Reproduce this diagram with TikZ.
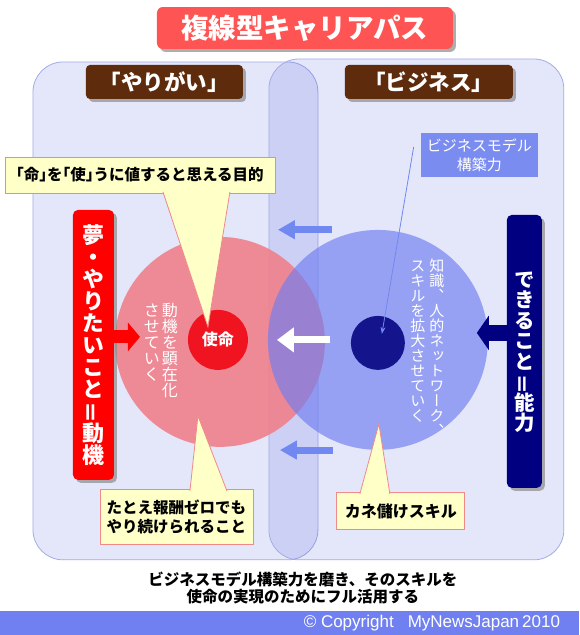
\documentclass[tikz,border=0pt]{standalone}
\usepackage{fontspec}
\usepackage{graphicx}
\setmainfont{Noto Sans CJK JP}
\newfontfamily\jpfont{Noto Sans CJK JP}
\newfontfamily\tatefont[RawFeature=+vert]{Noto Sans CJK JP}
\newfontfamily\haltfont[RawFeature=+halt]{Noto Sans CJK JP}
\newfontfamily\latinfont{Liberation Sans}
\usetikzlibrary{arrows.meta, calc, shadows}
\definecolor{titlered}{HTML}{FF5454}
\definecolor{headbrown}{HTML}{5E2C0C}
\definecolor{areablue}{HTML}{4B58DE}
\definecolor{arealine}{HTML}{A4ACE6}
\definecolor{notefill}{HTML}{FFFFC8}
\definecolor{noteline}{HTML}{EE8A8A}
\definecolor{passionpink}{HTML}{F0808C}
\definecolor{skillblue}{HTML}{6E7DF0}
\definecolor{corenavy}{HTML}{14148C}
\definecolor{missionred}{HTML}{F01420}
\definecolor{barred}{HTML}{FF0000}
\definecolor{barnavy}{HTML}{000080}
\definecolor{bmodelblue}{HTML}{7B8CF0}
\definecolor{footblue}{HTML}{7080F0}
\definecolor{pointblue}{HTML}{7088F0}
% vertical writing: one character per 1em cell
\makeatletter
\newcommand\tatecell[1]{\hbox to 1em{\hss\raisebox{0pt}[.88em][.12em]{#1}\hss}}
\newcommand\tatecol[1]{\vtop{\offinterlineskip\@tfor\tatechar:=#1\do{\tatecell{\tatechar}}}}
\makeatother
\newcommand\tateeq{\jpfont\rotatebox[origin=c]{90}{＝}}

\begin{document}
\begin{tikzpicture}[
    x=1pt, y=-1pt,
    boxshadow/.style={drop shadow={shadow xshift=3pt, shadow yshift=-3pt, fill=black!45, opacity=.7}},
    titlebox/.style={fill=titlered, rounded corners=6pt, text=white, font=\fontsize{27.5}{30}\selectfont\bfseries, minimum width=296pt, minimum height=42pt, inner sep=0pt, boxshadow},
    headbox/.style={fill=headbrown, rounded corners=4pt, text=white, font=\fontsize{21.5}{24}\selectfont\bfseries, minimum height=34pt, inner sep=0pt, boxshadow},
    area/.style={fill=areablue, fill opacity=.15, draw=arealine, line width=.8pt, rounded corners=30pt},
    bigcircle/.style={circle, inner sep=0pt, minimum size=#1},
    vbar/.style={rounded corners=5pt, text=white, inner sep=0pt, boxshadow},
    vtext/.style={anchor=north, inner sep=0pt, text=white},
    note/.style={fill=notefill, draw=noteline, line width=.8pt, font=\bfseries, inner sep=0pt, align=left},
    notetip/.style={fill=notefill, draw=noteline, line width=.8pt},
    blockarrow/.style={line width=#1, line cap=butt},
    pointline/.style={draw=pointblue, line width=.8pt, -{Stealth[length=7pt, width=5pt]}},
  ]
  \fill[white] (0,0) rectangle (579,635);
  % two fields
  \draw[area] (33,62) rectangle (318,560);
  \draw[area] (269,59) rectangle (564,560);
  % circles
  \node[bigcircle=210pt, fill=passionpink, fill opacity=.9] (passion) at (220,342) {};
  \node[bigcircle=220pt, fill=skillblue, fill opacity=.65] (skill) at (378,340) {};
  \node[bigcircle=60pt, fill=missionred, text=white, font=\fontsize{16}{18}\selectfont\bfseries] (mission) at (218,340) {使命};
  \node[bigcircle=54pt, fill=corenavy] (core) at (378,343) {};
  \node[vtext, font=\fontsize{16}{18}\selectfont\tatefont] (motive) at (161,302) {\tatecol{させていく}\hspace{2pt}\tatecol{動機を顕在化}};
  \node[vtext, font=\fontsize{15}{19}\selectfont\tatefont] (network) at (427.5,258) {\tatecol{スキルを拡大させていく}\hspace{4pt}\tatecol{知識、人的ネットワーク、}};
  % arrows between the fields
  \draw[blockarrow=7pt, draw=pointblue, -{Triangle[length=17pt, width=18pt]}] ([xshift=-46pt]skill.north) -- ([xshift=-100pt]skill.north);
  \draw[blockarrow=7pt, draw=pointblue, -{Triangle[length=17pt, width=18pt]}] ([xshift=-45pt]skill.south) -- ([xshift=-98pt]skill.south);
  \draw[blockarrow=7pt, draw=white, -{Triangle[length=17pt, width=24pt]}] ($(skill.center)+(-48,0)$) -- ($(passion.center)+(57,-2)$);
  % side bars
  \node[vbar, fill=barred, minimum height=270pt, minimum width=41pt, font=\fontsize{22}{24}\selectfont\bfseries\tatefont] (dream) at (93.5,345) {\tatecol{夢・やりたいこと{\tateeq}動機}};
  \node[vbar, fill=barnavy, minimum height=273pt, minimum width=35pt, font=\fontsize{20.5}{24}\selectfont\bfseries\tatefont] (ability) at (524.5,351.5) {\tatecol{できること{\tateeq}能力}};
  \draw[blockarrow=13pt, draw=barred, -{Triangle[length=12pt, width=28pt]}] ([yshift=8pt]dream.east) -- ($(passion.center)+(-80,-5)$);
  \draw[blockarrow=16pt, draw=barnavy, -{Triangle[length=12pt, width=34pt]}] ([yshift=18.5pt]ability.west) -- ($(skill.center)+(99,-7)$);
  % callouts
  \node[note, minimum width=270pt, minimum height=36pt, font=\fontsize{15.5}{17}\selectfont\bfseries\haltfont] (purpose) at (140,175) {「命」を「使」うに値すると思える目的};
  \path[notetip] ($(purpose.south)+(23,-1.5)$) -- ($(mission.center)+(-10,-13)$) -- ($(purpose.south)+(90,-1.5)$);
  \node[note, minimum width=153pt, minimum height=55pt, font=\fontsize{15.5}{19}\selectfont\bfseries] (effort) at (176.5,517.5) {たとえ報酬ゼロでも\\やり続けられること};
  \path[notetip] ($(effort.north)+(13.5,1.5)$) -- ($(passion.center)+(-22,74)$) -- ($(effort.north)+(50.5,1.5)$);
  \node[note, minimum width=128pt, minimum height=37pt, font=\fontsize{16}{18}\selectfont\bfseries] (money) at (401,511.5) {カネ儲けスキル};
  \path[notetip] ($(money.north)+(-41,1.5)$) -- ($(skill.center)+(1,84)$) -- ($(money.north)+(-11,1.5)$);
  \node[fill=bmodelblue, text=white, minimum width=117pt, minimum height=44pt, inner sep=0pt, align=center, font=\fontsize{15}{19}\selectfont] (bmodel) at (479.5,155) {ビジネスモデル\\構築力};
  \draw[pointline] ($(bmodel.west)+(-7,-8)$) -- ($(core.center)+(4,-9)$);
  % headings
  \node[titlebox] (title) at (305,28) {複線型キャリアパス};
  \node[headbox, minimum width=157pt] (yarigai) at (164.5,82) {「やりがい」};
  \node[headbox, minimum width=168pt] (business) at (429,82) {「ビジネス」};
  % summary and footer
  \node[align=center, font=\fontsize{15.5}{17}\selectfont\bfseries] (summary) at (303,588.5) {ビジネスモデル構築力を磨き、そのスキルを\\使命の実現のためにフル活用する};
  \node[fill=footblue, minimum width=579pt, minimum height=24pt, inner sep=0pt, anchor=north west] (band) at (0,611) {};
  \node[anchor=east, text=white, inner sep=0pt, font=\latinfont\fontsize{17}{20}\selectfont] (copyright) at ($(band.east)+(-19,0)$) {© Copyright\hspace{14pt}MyNewsJapan\hspace{3pt}2010};
\end{tikzpicture}
\end{document}
